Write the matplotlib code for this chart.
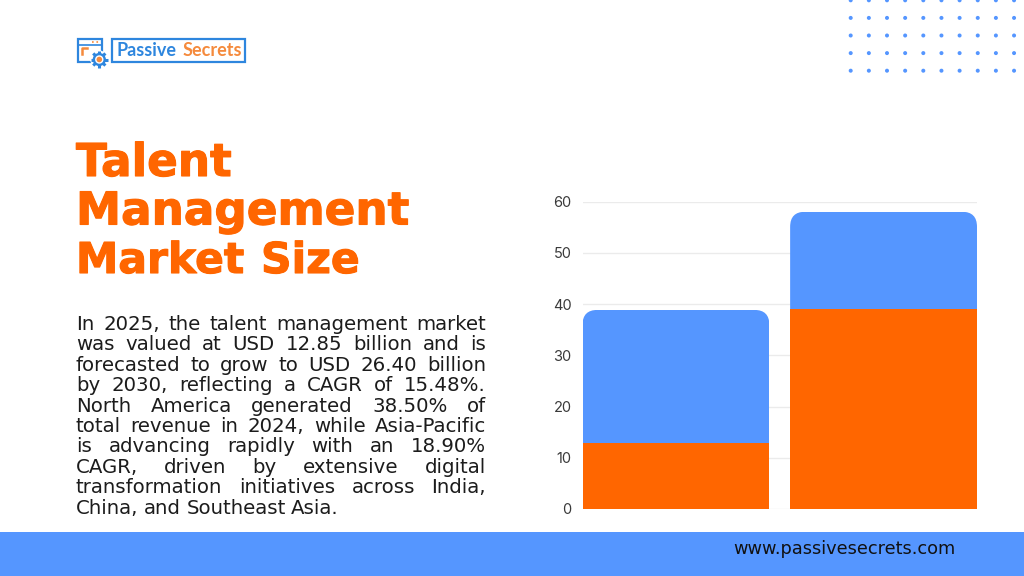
import math
import matplotlib
matplotlib.use("Agg")
import matplotlib.pyplot as plt
import matplotlib.patheffects as pe
from matplotlib.patches import FancyBboxPatch, Rectangle, Circle

BLUE = "#5596ff"
ORANGE = "#ff6600"
LOGO_BLUE = "#2e86de"
LOGO_ORANGE = "#f58a3c"
DARK = "#1c1c1c"

title_lines = ["Talent", "Management"]
title_last = ["Market", "Size"]
body_lines = [
    "In 2025, the talent management market",
    "was valued at USD 12.85 billion and is",
    "forecasted to grow to USD 26.40 billion",
    "by 2030, reflecting a CAGR of 15.48%.",
    "North America generated 38.50% of",
    "total revenue in 2024, while Asia-Pacific",
    "is advancing rapidly with an 18.90%",
    "CAGR, driven by extensive digital",
    "transformation initiatives across India,",
    "China, and Southeast Asia.",
]
footer_url = "www.passivesecrets.com"

categories = ["A", "B"]
orange_values = [12.85, 39]
blue_values = [26, 19]
y_ticks = [0, 10, 20, 30, 40, 50, 60]

W, H = 1024, 576
fig = plt.figure(figsize=(W / 100, H / 100), dpi=100, facecolor="white")

# full figure layer in pixel coords for the page furniture
page = fig.add_axes([0, 0, 1, 1])
page.set_xlim(0, W)
page.set_ylim(H, 0)
page.axis("off")

page.add_patch(Rectangle((0, 532), W, 44, color=BLUE, lw=0))
page.text(844.5, 549.5, footer_url, family="DejaVu Sans", fontsize=12.8,
          color="#111111", ha="center", va="center")

# dots top right
for r in range(5):
    for c in range(10):
        page.add_patch(Circle((850.7 + c * 18.15, 0.3 + r * 17.6), 2, color=BLUE, lw=0))

# logo
page.add_patch(Rectangle((78, 39), 23.5, 22.5, fill=False, ec=LOGO_BLUE, lw=1.6))
page.plot([78, 101.5], [44.5, 44.5], color=LOGO_BLUE, lw=1.2)
page.plot([92, 99], [41.8, 41.8], color=LOGO_ORANGE, lw=1.2, ls=":")
page.plot([81.5, 81.5, 87], [54, 48, 48], color=LOGO_ORANGE, lw=1.8)
gx, gy = 99.3, 59.5
page.add_patch(Circle((gx, gy), 9, fc="white", ec="none", zorder=3))
for k in range(8):
    a = k * math.pi / 4
    page.plot([gx, gx + 8.6 * math.cos(a)], [gy, gy + 8.6 * math.sin(a)], color=LOGO_BLUE, lw=2.2,
              solid_capstyle="butt", zorder=4)
page.add_patch(Circle((gx, gy), 6.6, color=LOGO_BLUE, lw=0, zorder=5))
page.add_patch(Circle((gx, gy), 4.2, color="white", lw=0, zorder=6))
page.add_patch(Circle((gx, gy), 2.8, color=LOGO_ORANGE, lw=0, zorder=7))
page.add_patch(Rectangle((111.5, 38.5), 133.5, 23, fill=False, ec=LOGO_BLUE, lw=1.6))
page.text(117, 50.5, "Passive", family="Lato", fontsize=13, fontweight="bold",
          color=LOGO_BLUE, ha="left", va="center")
page.text(183, 50.5, "Secrets", family="Lato", fontsize=13, fontweight="bold",
          color=LOGO_ORANGE, ha="left", va="center")

# title
heavy = [pe.withStroke(linewidth=0.8, foreground=ORANGE)]
for i, line in enumerate(title_lines):
    page.text(76, 176 + i * 48.5, line, family="DejaVu Sans", fontsize=32.6, fontweight="bold",
              color=ORANGE, ha="left", va="baseline", path_effects=heavy)
for word, x in zip(title_last, [76, 261]):
    page.text(x, 273, word, family="DejaVu Sans", fontsize=30.6, fontweight="bold",
              color=ORANGE, ha="left", va="baseline", path_effects=heavy)

# body text, justified by hand
renderer = fig.canvas.get_renderer()
left, right = 76, 486
base = 330
step = 20.4
for i, line in enumerate(body_lines):
    y = base + i * step
    words = line.split(" ")
    items = [page.text(0, y, w, family="DejaVu Sans", fontsize=14.2, color=DARK, va="baseline")
             for w in words]
    widths = [t.get_window_extent(renderer).width for t in items]
    if i == len(body_lines) - 1:
        gap = 5.5
    else:
        gap = (right - left - sum(widths)) / (len(words) - 1)
    x = left
    for t, w in zip(items, widths):
        t.set_x(x)
        x += w + gap

# chart
px_left, px_right, px_top, px_bottom = 582.5, 977, 201.5, 509
ax = fig.add_axes([px_left / W, 1 - px_bottom / H, (px_right - px_left) / W, (px_bottom - px_top) / H])
ax.set_facecolor("none")
ax.set_xlim(-0.45, 1.45)
ax.set_ylim(0, 60)
ax.set_yticks(y_ticks)
ax.set_xticks([])
ax.grid(axis="y", color="#ebebeb", lw=1)
ax.set_axisbelow(True)
for s in ax.spines.values():
    s.set_visible(False)
ax.tick_params(axis="y", length=0, pad=7.8, labelsize=10.5, labelcolor="#3a3a3a")
for lab in ax.get_yticklabels():
    lab.set_family("Inter")

xs = range(len(categories))
bar_w = 0.9
ax.bar(xs, orange_values, width=bar_w, color=ORANGE, zorder=3)
blue_bars = ax.bar(xs, blue_values, width=bar_w, bottom=orange_values, color=BLUE, zorder=2)

# round the top corners of the blue segments
x_px = (px_right - px_left) / (ax.get_xlim()[1] - ax.get_xlim()[0])
y_px = (px_bottom - px_top) / 60
rad = 15 / x_px
for bar in blue_bars:
    clip = FancyBboxPatch((bar.get_x(), 0), bar.get_width(), bar.get_y() + bar.get_height(),
                          boxstyle=f"round,pad=0,rounding_size={rad}",
                          mutation_aspect=x_px / y_px, transform=ax.transData)
    bar.set_clip_path(clip)

fig.savefig("out.png", dpi=100, facecolor="white")
